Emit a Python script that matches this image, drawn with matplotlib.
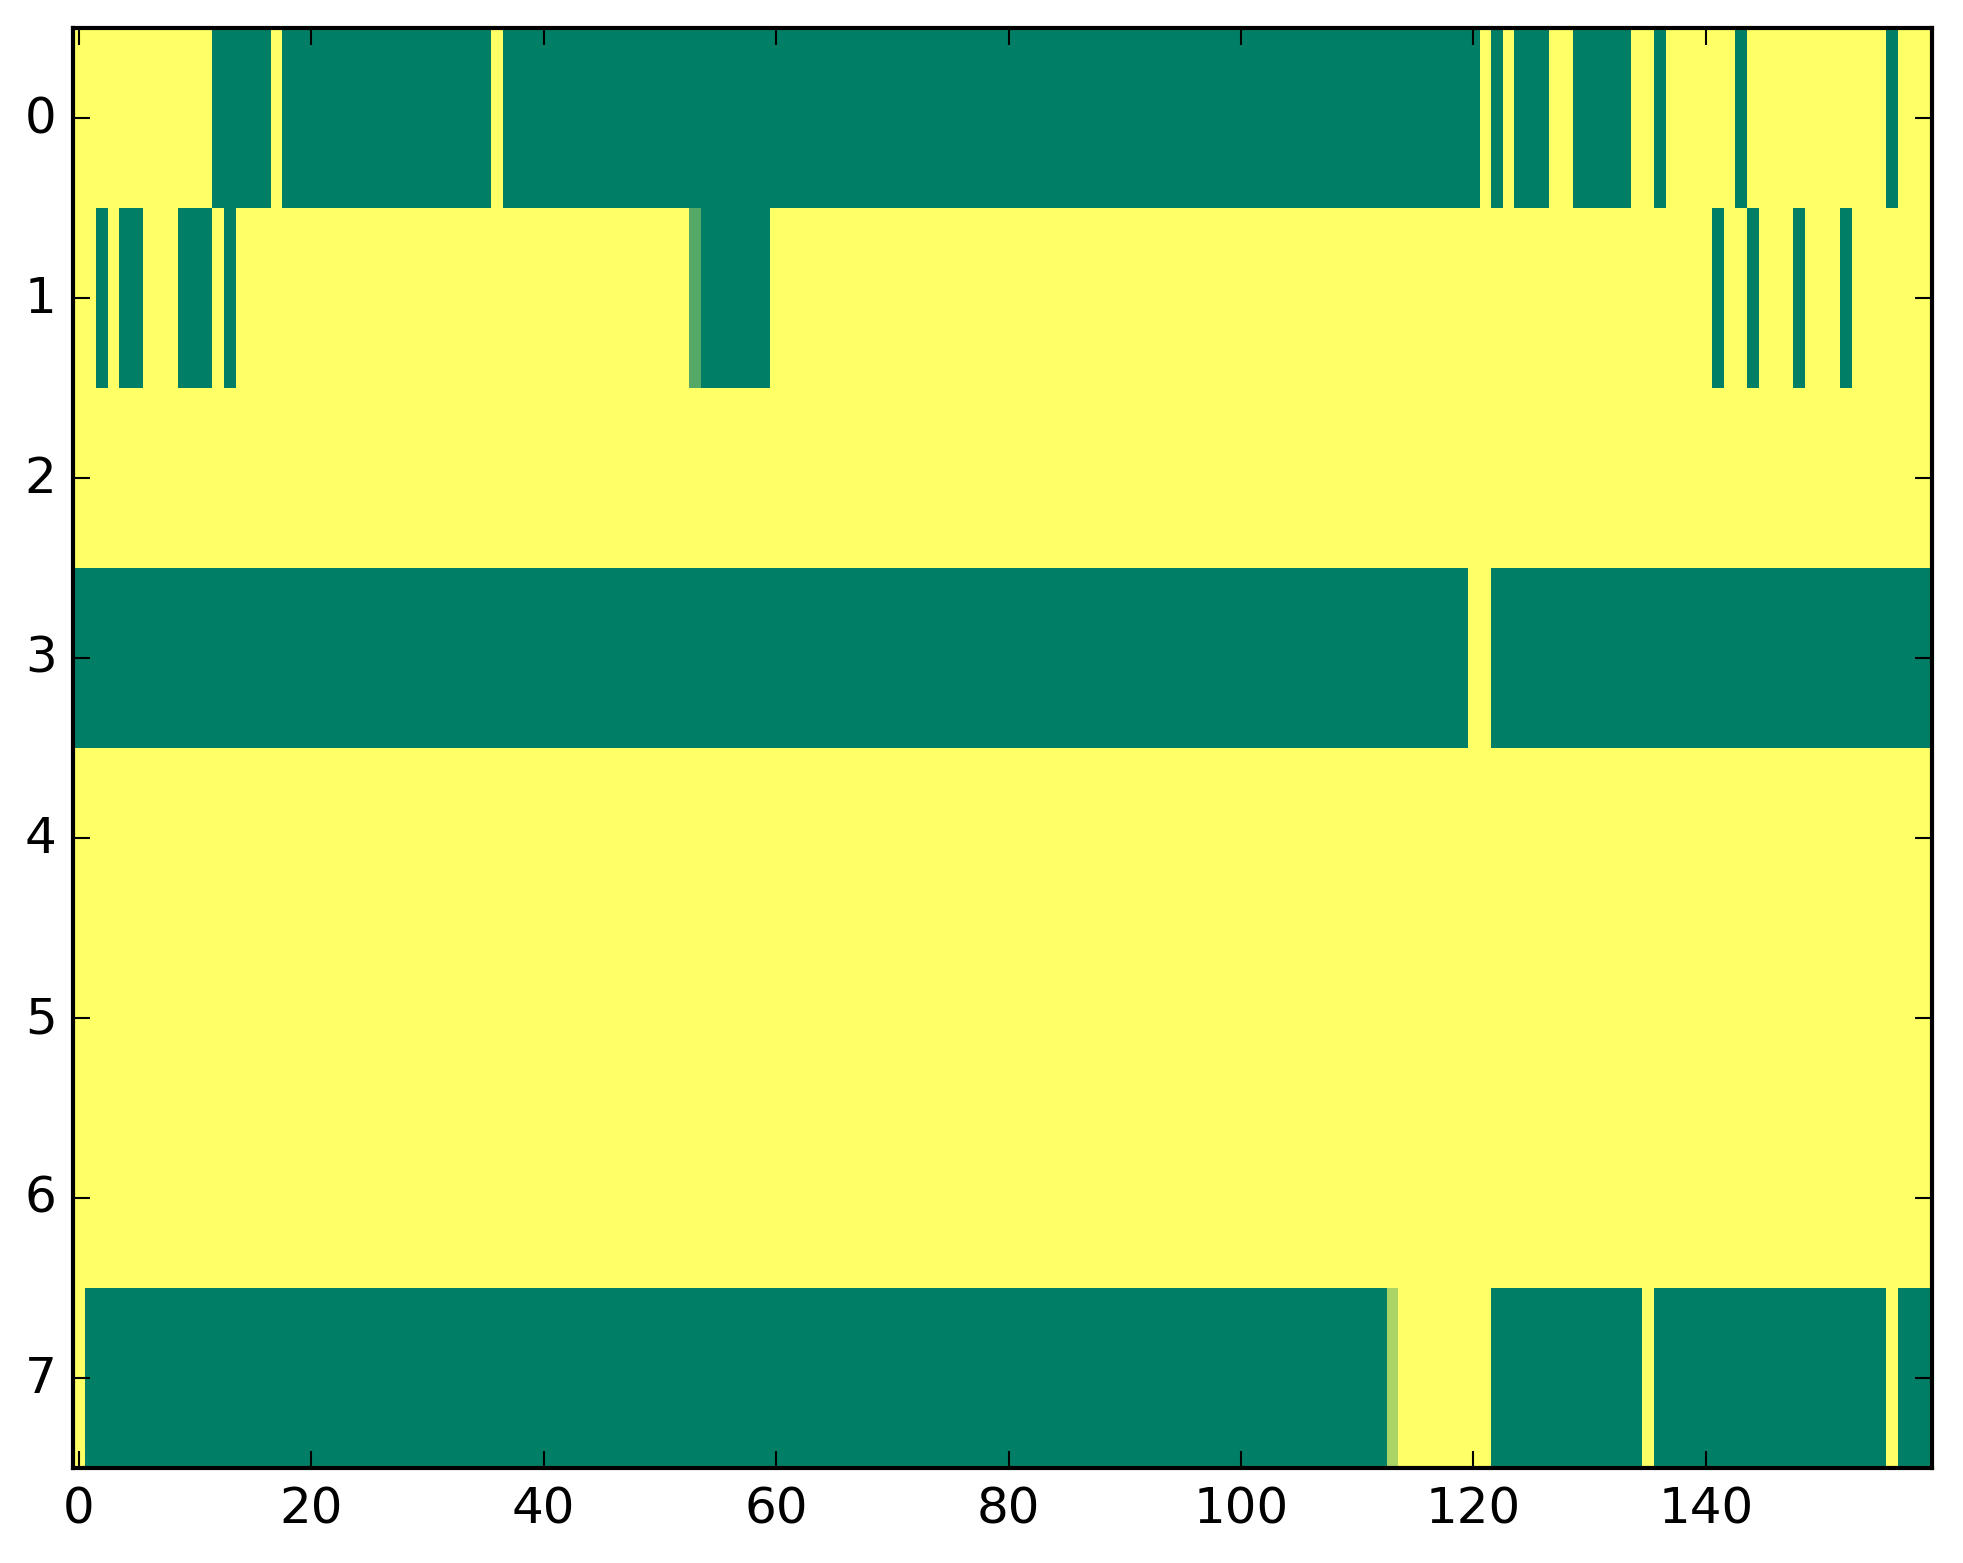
import numpy as np
import matplotlib
matplotlib.use("Agg")
import matplotlib.pyplot as plt

plt.style.use('classic')

# Each row given as runs of (value, length); 1 = yellow, 0 = green
row0 = [(1, 12), (0, 5), (1, 1), (0, 18), (1, 1), (0, 84), (1, 1), (0, 1), (1, 1),
        (0, 3), (1, 2), (0, 5), (1, 2), (0, 1), (1, 6), (0, 1), (1, 12), (0, 1), (1, 3)]
row1 = [(1, 2), (0, 1), (1, 1), (0, 2), (1, 3), (0, 3), (1, 1), (0, 1), (1, 39),
        (0.33, 1), (0, 6), (1, 81), (0, 1), (1, 2), (0, 1), (1, 3), (0, 1), (1, 3),
        (0, 1), (1, 7)]
row2 = [(1, 160)]
row3 = [(0, 120), (1, 2), (0, 38)]
row4 = [(1, 160)]
row5 = [(1, 160)]
row6 = [(1, 160)]
row7 = [(1, 1), (0, 112), (0.67, 1), (1, 8), (0, 13), (1, 1), (0, 20), (1, 1), (0, 3)]

rows = [row0, row1, row2, row3, row4, row5, row6, row7]


def expand(runs):
    out = []
    for v, n in runs:
        out.extend([v] * n)
    return out


data = np.array([expand(r) for r in rows], dtype=float)

W, H, DPI = 1963, 1564, 300
fig = plt.figure(figsize=(W / DPI, H / DPI), dpi=DPI, facecolor='white')
ax = fig.add_axes([73.2 / W, 95 / H, 1859.2 / W, 1440 / H])
ax.imshow(data, cmap='summer', interpolation='nearest', aspect='auto',
          vmin=0, vmax=1)
ax.set_xticks([0, 20, 40, 60, 80, 100, 120, 140])
ax.set_yticks(range(8))

fig.savefig('out.png', dpi=DPI, facecolor='white')
